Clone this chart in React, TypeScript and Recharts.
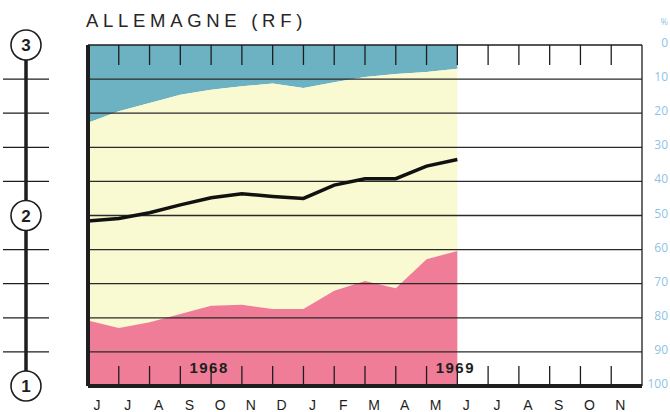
import {
  ComposedChart,
  Area,
  Line,
  XAxis,
  YAxis,
  ReferenceLine,
} from "recharts";

// months (index of each data point; 0 = June 1968 boundary)
const MONTH_POS = [0, 1, 2, 3, 4, 5, 6, 7, 8, 9, 10, 11, 12];
// boundaries, in % from the top
const BLUE_EDGE = [22.8, 19.4, 17.0, 14.6, 13.1, 12.1, 11.3, 12.6, 10.9, 9.4, 8.5, 7.9, 7.0];
const PINK_EDGE = [80.8, 83.0, 81.3, 78.9, 76.5, 76.2, 77.4, 77.4, 72.1, 69.2, 71.3, 62.8, 60.4];
const LINE_VALUES = [51.6, 50.9, 49.2, 46.9, 44.8, 43.6, 44.4, 45.0, 41.1, 39.2, 39.2, 35.5, 33.6];

const MONTH_LABELS = ["J", "J", "A", "S", "O", "N", "D", "J", "F", "M", "A", "M", "J", "J", "A", "S", "O", "N"];
const MONTH_TICKS = MONTH_LABELS.map((_, i) => i);
const INNER_TICKS = MONTH_TICKS.slice(1);
const YEAR_LABELS: { [k: number]: string } = { 4: "1968", 12: "1969" };
const PCT_TICKS = [0, 10, 20, 30, 40, 50, 60, 70, 80, 90, 100];
const GRID_LINES = [10, 20, 30, 40, 50, 60, 70, 80, 90];
const SCALE_LABELS: { [k: number]: string } = { 0: "3", 50: "2", 100: "1" };

const W = 670;
const H = 412;
const TOP = 44;
const BOTTOM_AXIS = 26;
const PLOT_H = H - TOP - BOTTOM_AXIS;

const BLUE = "#6cb2c2";
const YELLOW = "#f9f9d2";
const PINK = "#ef7d97";
const INK = "#1e1e1e";
const SANS = "'Liberation Sans', Arial, sans-serif";

const data = MONTH_POS.map((m, i) => ({
  m,
  blue: BLUE_EDGE[i],
  yellow: PINK_EDGE[i] - BLUE_EDGE[i],
  pink: 100 - PINK_EDGE[i],
  line: LINE_VALUES[i],
}));

function LeftScaleTick(props: any) {
  const { y, payload } = props;
  const v = payload.value;
  const label = SCALE_LABELS[v];
  const step = PLOT_H / 10;
  return (
    <g>
      {v < 100 && (
        <line x1={26} x2={26} y1={y} y2={y + step} stroke={INK} strokeWidth={3.5} />
      )}
      {label ? (
        <g>
          <circle cx={26} cy={y} r={15} fill="#fff" stroke={INK} strokeWidth={1.6} />
          <text
            x={26}
            y={y}
            dy="0.36em"
            textAnchor="middle"
            fontSize={17}
            fontWeight="bold"
            fontFamily={SANS}
            fill={INK}
          >
            {label}
          </text>
        </g>
      ) : (
        <line x1={3} x2={49} y1={y} y2={y} stroke={INK} strokeWidth={1.2} />
      )}
    </g>
  );
}

function RightPctTick(props: any) {
  const { x, y, payload } = props;
  return (
    <g>
      {payload.value === 0 && (
        <text x={x + 26} y={y - 20} textAnchor="end" fontSize={9} fill="#92c6e8" fontFamily="'Open Sans', sans-serif">
          %
        </text>
      )}
      <text
        x={x + 26}
        y={y}
        dy={2}
        textAnchor="end"
        fontSize={12}
        fill="#8fc3e6"
        fontFamily="'Open Sans', sans-serif"
      >
        {payload.value}
      </text>
    </g>
  );
}

function MonthTick(props: any) {
  const { x, y, payload } = props;
  const k = payload.value;
  const year = YEAR_LABELS[k];
  return (
    <g>
      {k >= 1 && <line x1={x} x2={x} y1={y} y2={y - 20} stroke={INK} strokeWidth={1.3} />}
      {year && (
        <text
          x={x - 2}
          y={y - 13}
          textAnchor="middle"
          fontSize={15}
          fontWeight="bold"
          letterSpacing={1.5}
          fontFamily={SANS}
          fill={INK}
        >
          {year}
        </text>
      )}
      <text x={x + 9} y={y + 24} textAnchor="middle" fontSize={14} fontFamily={SANS} fill={INK}>
        {MONTH_LABELS[k]}
      </text>
    </g>
  );
}

function TopTick(props: any) {
  const { x, y } = props;
  return <line x1={x} x2={x} y1={y} y2={y + 20} stroke={INK} strokeWidth={1.3} />;
}

export default function App() {
  return (
    <div style={{ position: "absolute", left: 0, top: 0, width: W, height: H, background: "#fff" }}>
      <div
        style={{
          position: "absolute",
          left: 86,
          top: 12,
          fontFamily: SANS,
          fontSize: 18.5,
          lineHeight: "18.5px",
          letterSpacing: 4.7,
          color: "#262626",
          whiteSpace: "nowrap",
        }}
      >
        ALLEMAGNE (RF)
      </div>
      <ComposedChart
        width={W}
        height={H}
        data={data}
        margin={{ top: TOP, right: 0, bottom: 0, left: 0 }}
      >
        <Area
          dataKey="blue"
          stackId="s"
          type="linear"
          fill={BLUE}
          fillOpacity={1}
          stroke="none"
          isAnimationActive={false}
        />
        <Area
          dataKey="yellow"
          stackId="s"
          type="linear"
          fill={YELLOW}
          fillOpacity={1}
          stroke="none"
          isAnimationActive={false}
        />
        <Area
          dataKey="pink"
          stackId="s"
          type="linear"
          fill={PINK}
          fillOpacity={1}
          stroke="none"
          isAnimationActive={false}
        />
        {GRID_LINES.map((g) => (
          <ReferenceLine key={g} y={g} stroke="#2a2a2a" strokeWidth={1.3} />
        ))}
        <Line
          dataKey="line"
          type="linear"
          stroke="#111"
          strokeWidth={3.5}
          dot={false}
          isAnimationActive={false}
        />
        {/* invisible copy that ties the top and right axes to the data */}
        <Line
          xAxisId="top"
          yAxisId="right"
          dataKey="line"
          type="linear"
          stroke="none"
          dot={false}
          activeDot={false}
          isAnimationActive={false}
        />
        <XAxis
          dataKey="m"
          type="number"
          domain={[0, 18]}
          ticks={MONTH_TICKS}
          interval={0}
          height={BOTTOM_AXIS}
          tickSize={0}
          tickMargin={0}
          tickLine={false}
          axisLine={{ stroke: INK, strokeWidth: 4 }}
          tick={(p: any) => <MonthTick {...p} />}
        />
        <XAxis
          xAxisId="top"
          dataKey="m"
          orientation="top"
          type="number"
          domain={[0, 18]}
          ticks={INNER_TICKS}
          interval={0}
          height={1}
          tickSize={0}
          tickMargin={0}
          tickLine={false}
          axisLine={{ stroke: INK, strokeWidth: 1.5 }}
          tick={(p: any) => <TopTick {...p} />}
        />
        <YAxis
          type="number"
          domain={[0, 100]}
          reversed
          ticks={PCT_TICKS}
          interval={0}
          width={88}
          tickSize={0}
          tickMargin={0}
          tickLine={false}
          axisLine={{ stroke: INK, strokeWidth: 4 }}
          tick={(p: any) => <LeftScaleTick {...p} />}
        />
        <YAxis
          yAxisId="right"
          orientation="right"
          type="number"
          domain={[0, 100]}
          reversed
          ticks={PCT_TICKS}
          interval={0}
          width={28}
          tickSize={0}
          tickMargin={0}
          tickLine={false}
          axisLine={{ stroke: INK, strokeWidth: 1.3 }}
          tick={(p: any) => <RightPctTick {...p} />}
        />
      </ComposedChart>
    </div>
  );
}
